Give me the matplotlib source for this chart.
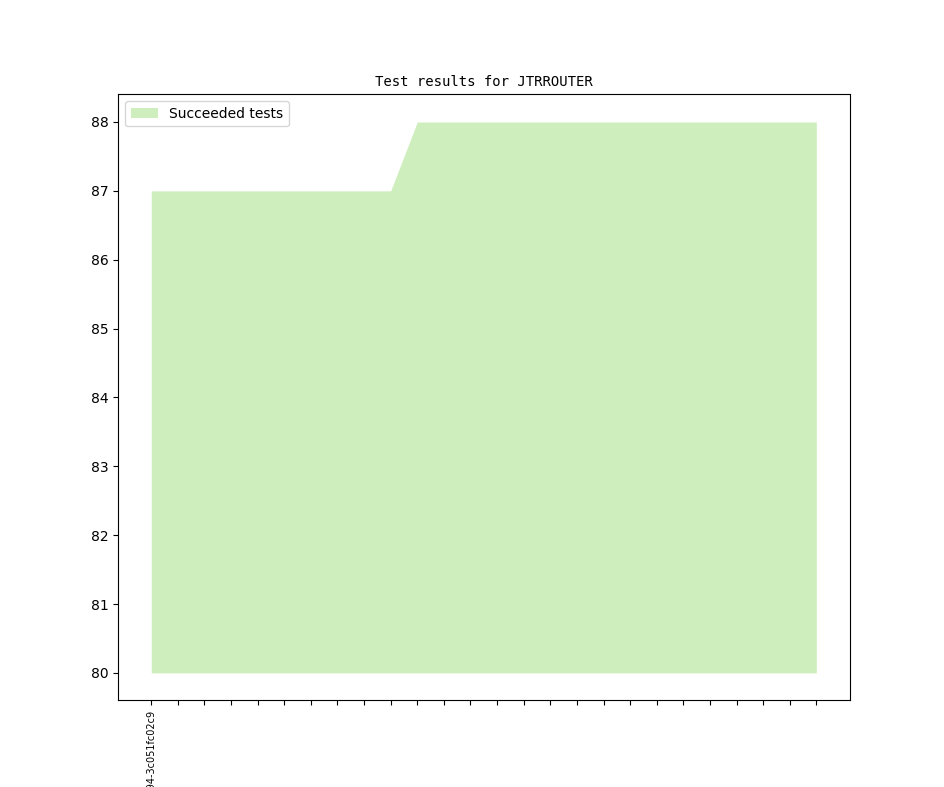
import numpy as np
import matplotlib
matplotlib.use("Agg")
import matplotlib.pyplot as plt

# one value per test run
succeeded = [87, 87, 87, 87, 87, 87, 87, 87, 87, 87,
             88, 88, 88, 88, 88, 88, 88, 88, 88, 88,
             88, 88, 88, 88, 88, 88]
run_labels = ["2019.06.11-0a1b2c94-3c051fc02c9"] + [""] * 25
baseline = 80

x = np.arange(len(succeeded))

fig = plt.figure(figsize=(9.44, 7.87), dpi=100)
ax = fig.add_subplot(111)
ax.fill_between(x, succeeded, baseline, color="#cfeebe", linewidth=0,
                label="Succeeded tests")
ax.set_xticks(x)
ax.set_xticklabels(run_labels, rotation=90, fontsize=7)
ax.set_title("Test results for JTRROUTER", family="DejaVu Sans Mono", fontsize=10)
ax.legend(loc="upper left")

fig.savefig("out.png", dpi=100)
